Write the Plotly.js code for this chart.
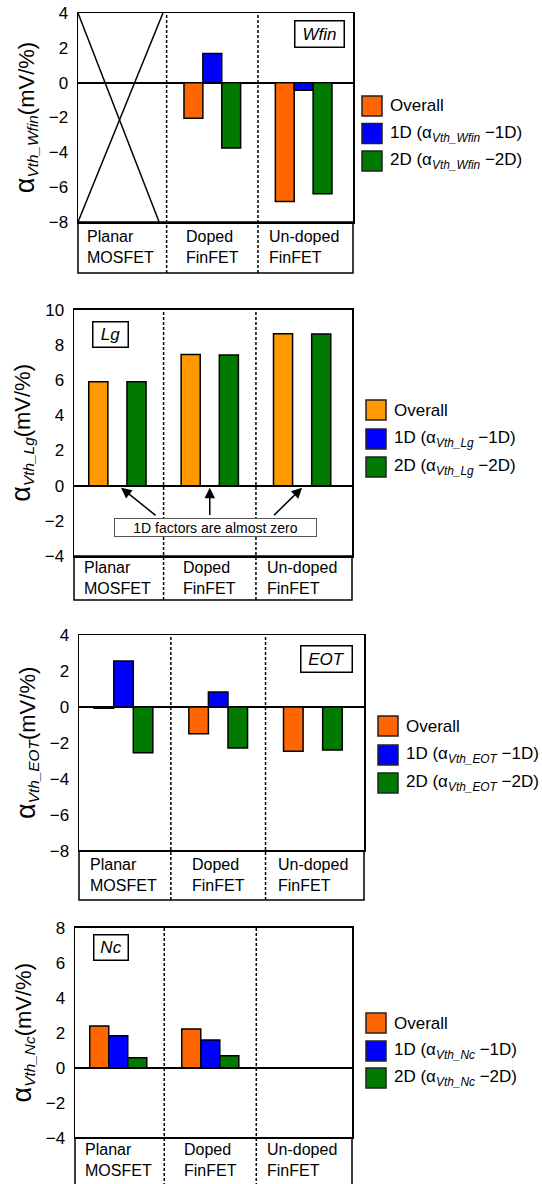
<!DOCTYPE html>
<html>
<head>
<meta charset="utf-8">
<script src="https://cdn.plot.ly/plotly-3.0.1.min.js"></script>
<style>html,body{margin:0;padding:0;background:#fff;}#chart{width:542px;height:1184px;}</style>
</head>
<body>
<div id="chart"></div>
<script>
// ---------------- data ----------------
const categories = ['Planar MOSFET', 'Doped FinFET', 'Un-doped FinFET'];
const factors = ['Wfin', 'Lg', 'EOT', 'Nc'];
const seriesNames = ['Overall', '1D', '2D'];

const wfinOverall = [null, -2.05, -6.82];
const wfin1D      = [null,  1.67, -0.44];
const wfin2D      = [null, -3.75, -6.38];

const lgOverall = [5.90, 7.45, 8.64];
const lg1D      = [0.00, 0.00, 0.00];
const lg2D      = [5.90, 7.42, 8.62];

const eotOverall = [-0.07, -1.49, -2.47];
const eot1D      = [ 2.55,  0.83,  0.00];
const eot2D      = [-2.55, -2.29, -2.40];

const ncOverall = [2.38, 2.21, null];
const nc1D      = [1.83, 1.58, null];
const nc2D      = [0.57, 0.69, null];

const yRanges = [[-8, 4], [-4, 10], [-8, 4], [-4, 8]];
const lgNote = '1D factors are almost zero';

// ---------------- layout helpers ----------------
const W = 542, H = 1184;
const px = x => x / W;
const py = y => 1 - y / H;
const xRange = [-0.47, 2.54];
const xpos = categories.map((c, i) => i);
const FONT = 'Liberation Sans, Arial, sans-serif';

const seriesValues = [
  [wfinOverall, wfin1D, wfin2D],
  [lgOverall, lg1D, lg2D],
  [eotOverall, eot1D, eot2D],
  [ncOverall, nc1D, nc2D]
];

const panels = [
  {x0: 78, x1: 353, y0: 13,    y1: 222,    boxBottom: 273,  labelMid: 247.5, overall: '#FF6600', tag: [0.878, 0.900], tagW: 51, tagH: 28, swX: 362, rows: [106, 133.5, 161]},
  {x0: 74, x1: 352, y0: 309.7, y1: 556,    boxBottom: 600,  labelMid: 578,   overall: '#FF9900', tag: [0.131, 0.899], tagW: 37, tagH: 27, swX: 366, rows: [410, 439, 467]},
  {x0: 79, x1: 364, y0: 635,   y1: 850.7,  boxBottom: 900,  labelMid: 875,   overall: '#FF6600', tag: [0.868, 0.889], tagW: 53, tagH: 28, swX: 378, rows: [726, 755, 783]},
  {x0: 75, x1: 352, y0: 927.7, y1: 1137.7, boxBottom: 1196, labelMid: 1160,  overall: '#FF6600', tag: [0.130, 0.906], tagW: 36, tagH: 27, swX: 366, rows: [1023, 1051, 1078]}
];
const blue = '#0000FF', green = '#007A00';

const traces = [];
const layout = {
  width: W, height: H,
  margin: {l: 0, r: 0, t: 0, b: 0},
  paper_bgcolor: '#fff', plot_bgcolor: '#fff',
  showlegend: false,
  barmode: 'group', bargap: 0.38, bargroupgap: 0,
  font: {family: FONT, color: '#000'},
  shapes: [], annotations: []
};

panels.forEach((p, k) => {
  const sfx = k === 0 ? '' : String(k + 1);
  const xa = 'x' + sfx, ya = 'y' + sfx;
  const colors = [p.overall, blue, green];
  const fac = factors[k];

  seriesValues[k].forEach((vals, s) => {
    traces.push({
      type: 'bar', x: xpos, y: vals, name: seriesNames[s],
      xaxis: xa, yaxis: ya,
      marker: {color: colors[s], line: {color: '#000', width: 1.5}},
      hoverinfo: 'y'
    });
  });

  layout['xaxis' + sfx] = {
    domain: [px(p.x0), px(p.x1)], anchor: ya, range: xRange,
    showline: true, mirror: true, linecolor: '#000', linewidth: 1.5,
    showgrid: false, zeroline: false, showticklabels: false, ticks: '', fixedrange: true
  };
  layout['yaxis' + sfx] = {
    domain: [py(p.y1), py(p.y0)], anchor: xa, range: yRanges[k],
    tick0: 0, dtick: 2, ticks: '', ticklabelstandoff: 5,
    tickfont: {family: FONT, size: 17, color: '#000'},
    showline: true, mirror: true, linecolor: '#000', linewidth: 1.5,
    showgrid: false, zeroline: true, zerolinecolor: '#000', zerolinewidth: 2, fixedrange: true,
    title: {
      text: '<span style="font-size:27px">α</span><sub><i>Vth_' + fac + '</i></sub>(mV/%)',
      font: {family: FONT, size: 22, color: '#000'}, standoff: 8
    }
  };

  const plotH = p.y1 - p.y0;
  const boxFrac = -(p.boxBottom - p.y1) / plotH;
  const labelFrac = -(p.labelMid - p.y1) / plotH;
  // category label box
  layout.shapes.push({type: 'rect', xref: xa + ' domain', yref: ya + ' domain',
    x0: 0, x1: 1, y0: boxFrac, y1: 0, line: {color: '#000', width: 1.5}});
  // dashed dividers
  [0.5, 1.5].forEach(d => layout.shapes.push({type: 'line', xref: xa, yref: ya + ' domain',
    x0: d, x1: d, y0: boxFrac, y1: 1, line: {color: '#000', width: 1.5, dash: '3px,2px'}}));
  // category labels
  categories.forEach((c, i) => layout.annotations.push({
    xref: xa, yref: ya + ' domain', x: i, y: labelFrac, xanchor: 'center', yanchor: 'middle',
    text: c.replace(' ', '<br>'), align: 'left', showarrow: false,
    font: {family: FONT, size: 16, color: '#000'}
  }));
  // factor tag
  layout.annotations.push({
    xref: xa + ' domain', yref: ya + ' domain', x: p.tag[0], y: p.tag[1],
    xanchor: 'center', yanchor: 'middle', text: '<i>' + fac + '</i>', showarrow: false,
    font: {family: FONT, size: 17, color: '#000'},
    bordercolor: '#000', borderwidth: 1.5, borderpad: 0, bgcolor: '#fff',
    width: p.tagW - 3, height: p.tagH - 3
  });
  // legend
  seriesNames.forEach((s, j) => {
    const cy = p.rows[j];
    layout.shapes.push({type: 'rect', xref: 'paper', yref: 'paper',
      x0: px(p.swX), x1: px(p.swX + 20), y0: py(cy + 10), y1: py(cy - 10),
      fillcolor: colors[j], line: {color: '#222', width: 1.5}});
    const label = j === 0 ? s : s + ' (α<sub><i>Vth_' + fac + '</i></sub> −' + s + ')';
    layout.annotations.push({xref: 'paper', yref: 'paper', x: px(p.swX + 26), y: py(cy),
      xanchor: 'left', yanchor: 'middle', text: label, showarrow: false,
      font: {family: FONT, size: 17, color: '#000'}});
  });
});

// X mark over planar MOSFET (Wfin)
layout.shapes.push({type: 'line', xref: 'x domain', yref: 'y domain', x0: 0, y0: 1, x1: 0.295, y1: 0, line: {color: '#000', width: 1.5}});
layout.shapes.push({type: 'line', xref: 'x domain', yref: 'y domain', x0: 0, y0: 0, x1: 0.309, y1: 1, line: {color: '#000', width: 1.5}});

// Lg note and arrows
layout.annotations.push({xref: 'x2 domain', yref: 'y2', x: 0.509, y: -2.36, xanchor: 'center', yanchor: 'middle',
  text: lgNote, showarrow: false, font: {family: FONT, size: 14, color: '#000'},
  bordercolor: '#555', borderwidth: 1, borderpad: 0, bgcolor: '#fff', width: 201, height: 17});
const arrowTails = [[0.43, -1.76], [1.0, -1.76], [1.68, -1.76]];
xpos.forEach((xi, i) => layout.annotations.push({xref: 'x2', yref: 'y2', x: xi + (i === 0 ? 0.04 : 0), y: -0.12,
  axref: 'x2', ayref: 'y2', ax: arrowTails[i][0], ay: arrowTails[i][1], text: '',
  showarrow: true, arrowhead: 2, arrowsize: 1.4, arrowwidth: 1.5, arrowcolor: '#000'}));

Plotly.newPlot('chart', traces, layout, {staticPlot: true, displayModeBar: false});
</script>
</body>
</html>
